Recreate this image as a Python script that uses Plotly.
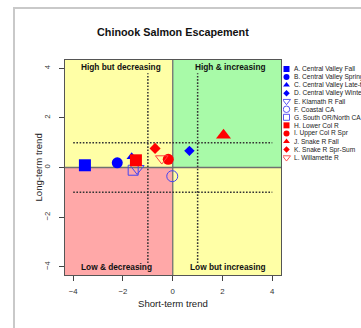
import plotly.graph_objects as go

# Stock status: short-term vs long-term trend of Chinook escapement
stocks = ["A. Central Valley Fall", "B. Central Valley Spring", "C. Central Valley Late-fall",
          "D. Central Valley Winter", "E. Klamath R Fall", "F. Coastal CA",
          "G. South OR/North CA", "H. Lower Col R", "I. Upper Col R Spr",
          "J. Snake R Fall", "K. Snake R Spr-Sum", "L. Willamette R"]
short_term = [-3.53, -2.23, -1.65, 0.67, -1.43, -0.02, -1.59, -1.48, -0.18, 2.04, -0.71, -0.44]
long_term = [0.09, 0.19, 0.43, 0.67, -0.04, -0.35, -0.11, 0.29, 0.33, 1.30, 0.77, 0.36]
symbols = ["square", "circle", "triangle-up", "diamond", "triangle-down-open", "circle-open",
           "square-open", "square", "circle", "triangle-up", "diamond", "triangle-down-open"]
colors = ["#0000FF"] * 7 + ["#FF0000"] * 5
sizes = [12, 11, 9, 8, 12, 11, 10, 12, 11, 13, 8.5, 11]

x_ticks = [-4, -2, 0, 2, 4]
y_ticks = [-4, -2, 0, 2, 4]
quadrant_labels = ["High but decreasing", "High & increasing", "Low & decreasing", "Low but increasing"]

W, H = 361, 328
XR = [-4.33, 4.35]
YR = [-4.33, 4.33]
PL, PR, PT, PB = 65, 281, 60, 275  # plot box in pixels
KEY_L = 283                          # left edge of the key panel in pixels
FONT = "Liberation Sans, Arial, sans-serif"


def pap_x(px):
    return px / W


def pap_y(py):
    return 1 - py / H


def soft(col):
    # thin outlines of hollow symbols read a little lighter
    return {"#0000FF": "#4646F0", "#FF0000": "#FF4040"}[col]


fig = go.Figure()

# data points
for name, sx, ly, sym, col, sz in zip(stocks, short_term, long_term, symbols, colors, sizes):
    open_sym = sym.endswith("open")
    fig.add_trace(go.Scatter(
        x=[sx], y=[ly], mode="markers", showlegend=False, name=name,
        marker=dict(symbol=sym, size=sz, color=soft(col) if open_sym else col,
                    line=dict(color=soft(col) if open_sym else col,
                              width=1.0 if open_sym else 0))))

# key at the right of the plot box, on its own pixel-scaled panel
leg_x = 286.5
leg_y0 = 69.0
leg_dy = 8.05
leg_sizes = {"square": 6, "circle": 6, "triangle-up": 6, "diamond": 5,
             "triangle-down-open": 7, "circle-open": 6.5, "square-open": 6}
for i, (name, sym, col) in enumerate(zip(stocks, symbols, colors)):
    yy = leg_y0 + i * leg_dy
    open_sym = sym.endswith("open")
    fig.add_trace(go.Scatter(
        x=[leg_x], y=[yy], mode="markers", showlegend=False, hoverinfo="skip",
        xaxis="x2", yaxis="y2",
        marker=dict(symbol=sym, size=leg_sizes[sym], color=soft(col) if open_sym else col,
                    line=dict(color=soft(col) if open_sym else col,
                              width=0.9 if open_sym else 0))))
    fig.add_annotation(x=pap_x(leg_x + 5.5), y=pap_y(yy), xref="paper", yref="paper",
                       text=name, showarrow=False, xanchor="left", yanchor="middle",
                       font=dict(size=6.6, color="#222", family=FONT))

shapes = []
# quadrant backgrounds
quads = [(XR[0], 0, 0, YR[1], "#FFFFA6"), (0, XR[1], 0, YR[1], "#A8FAA8"),
         (XR[0], 0, YR[0], 0, "#FFA8A8"), (0, XR[1], YR[0], 0, "#FFFFA6")]
for x0, x1, y0, y1, c in quads:
    shapes.append(dict(type="rect", xref="x", yref="y", x0=x0, x1=x1, y0=y0, y1=y1,
                       fillcolor=c, line=dict(width=0), layer="below"))
# quadrant dividers
shapes.append(dict(type="line", xref="x", yref="y", x0=0, x1=0, y0=YR[0], y1=YR[1],
                   line=dict(color="#707070", width=1.3), layer="below"))
shapes.append(dict(type="line", xref="x", yref="y", x0=XR[0], x1=XR[1], y0=0, y1=0,
                   line=dict(color="#707070", width=1.3), layer="below"))
# +/-1 reference lines
dot = dict(color="#333333", width=1.5, dash="1.6px,1.6px")
for v in (-1, 1):
    shapes.append(dict(type="line", xref="x", yref="y", x0=v, x1=v, y0=-3.85, y1=3.8,
                       line=dot, layer="below"))
    shapes.append(dict(type="line", xref="x", yref="y", x0=-4.0, x1=4.0, y0=v, y1=v,
                       line=dot, layer="below"))
# outer frame
shapes.append(dict(type="line", xref="paper", yref="paper", x0=pap_x(14), x1=pap_x(14),
                   y0=0, y1=pap_y(8), line=dict(color="#C9C9C9", width=2)))
shapes.append(dict(type="line", xref="paper", yref="paper", x0=pap_x(13), x1=1,
                   y0=pap_y(8), y1=pap_y(8), line=dict(color="#C9C9C9", width=2)))
fig.update_layout(shapes=shapes)

# quadrant labels
qfont = dict(size=8.3, color="#111", family=FONT)
q_pos = [(-3.77, 4.04, "left"), (3.81, 4.04, "right"), (-3.77, -4.0, "left"), (3.81, -4.0, "right")]
for lab, (qx, qy, anc) in zip(quadrant_labels, q_pos):
    fig.add_annotation(x=qx, y=qy, xref="x", yref="y", text="<b>%s</b>" % lab,
                       xanchor=anc, yanchor="middle", showarrow=False, font=qfont)

# titles
fig.add_annotation(x=pap_x(172.5), y=pap_y(24), xref="paper", yref="paper", showarrow=False,
                   text="<b>Chinook Salmon Escapement</b>",
                   font=dict(size=10.8, color="#111", family=FONT))
fig.add_annotation(x=pap_x(172.5), y=pap_y(310.5), xref="paper", yref="paper", showarrow=False,
                   text="Short-term trend", font=dict(size=9.6, color="#222", family=FONT))
fig.add_annotation(x=pap_x(30), y=pap_y(168), xref="paper", yref="paper", showarrow=False,
                   textangle=-90, text="Long-term trend",
                   font=dict(size=9.6, color="#222", family=FONT))

tickfont = dict(size=7.8, color="#333", family=FONT)
fig.update_layout(
    width=W, height=H, margin=dict(l=0, r=0, t=0, b=0),
    paper_bgcolor="white", plot_bgcolor="rgba(0,0,0,0)",
    xaxis=dict(domain=[PL / W, PR / W], range=XR, tickvals=x_ticks, ticks="outside",
               ticklen=5, tickcolor="#444", tickfont=tickfont, showgrid=False,
               ticklabelstandoff=4,
               zeroline=False, showline=True, linecolor="#555", linewidth=1, mirror=True),
    yaxis=dict(domain=[1 - PB / H, 1 - PT / H], range=YR, tickvals=y_ticks, ticks="outside",
               ticklen=5, tickcolor="#444", tickfont=tickfont, tickangle=-90, showgrid=False,
               ticklabelstandoff=6,
               zeroline=False, showline=True, linecolor="#555", linewidth=1, mirror=True),
    xaxis2=dict(domain=[KEY_L / W, 1], range=[KEY_L, W], visible=False, anchor="y2"),
    yaxis2=dict(domain=[0, 1], range=[H, 0], visible=False, anchor="x2"),
    showlegend=False,
)

fig.write_html("out.html")
